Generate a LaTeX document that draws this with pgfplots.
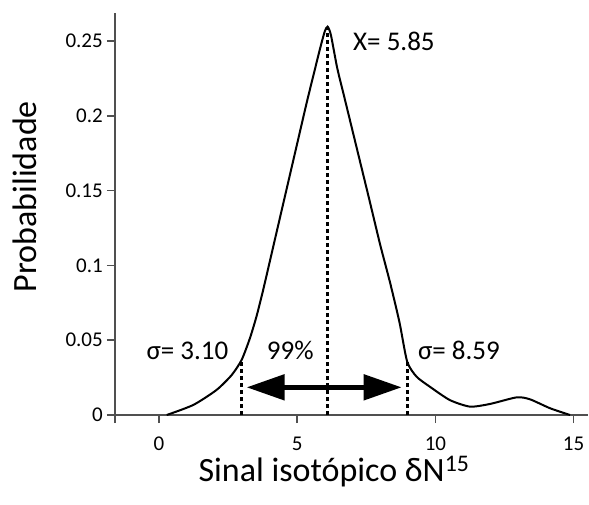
\documentclass[border=0pt]{standalone}
\usepackage{fontspec}
\setmainfont{Carlito}
\usepackage{pgfplots}
\pgfplotsset{compat=1.18}
\usetikzlibrary{arrows.meta}
\definecolor{axgray}{RGB}{80,80,80}
\begin{document}
\begin{tikzpicture}
\begin{axis}[
  scale only axis, width=473pt, height=410pt,
  xmin=-1.59, xmax=15.52, ymin=-0.00535, ymax=0.2687,
  axis x line=middle, axis y line=left,
  hide obscured x ticks=false, hide obscured y ticks=false,
  axis line style={-, draw=axgray, line width=1.8pt},
  xtick={0,5,10,15}, xticklabels={},
  ytick={0,0.05,0.1,0.15,0.2,0.25}, yticklabels={},
  tick align=outside, major tick length=8pt,
  tick style={draw=axgray, line width=1.5pt},
  clip=false,
]
\addplot[black, line width=2pt, smooth, tension=0.4] coordinates {
(0.28,0) (1.24,0.0067) (2.08,0.0167) (2.63,0.0267)
(2.99,0.0368) (3.29,0.0513) (3.53,0.066) (3.77,0.0836) (4.2,0.1178) (4.6,0.1496)
(5.0,0.1814) (5.34,0.2084) (5.6,0.228) (5.85,0.2465) (6.0,0.2565) (6.1,0.2596) (6.22,0.254)
(6.45,0.2318) (6.73,0.2106) (7.2,0.175) (7.6,0.1447) (8.0,0.114) (8.36,0.0885)
(8.7,0.062) (8.98,0.0356) (9.32,0.0256) (9.8,0.0189) (10.52,0.010) (11.25,0.0056)
(11.98,0.0074) (12.94,0.0118) (13.42,0.0105) (14.15,0.0045) (14.87,0)
};
\addplot[black, line width=3pt, dash pattern=on 4pt off 3pt] coordinates {(2.99,0) (2.99,0.0368)};
\addplot[black, line width=3pt, dash pattern=on 4pt off 3pt] coordinates {(6.1,0) (6.1,0.2596)};
\addplot[black, line width=3pt, dash pattern=on 4pt off 3pt] coordinates {(8.98,0) (8.98,0.0356)};
\addplot[black, line width=5pt, {Triangle[length=38pt,width=25pt]}-{Triangle[length=38pt,width=25pt]}] coordinates {(3.17,0.0185) (8.78,0.0185)};
% tick labels
\pgfplotsinvokeforeach{0,5,10,15}{
  \node[anchor=base, font=\fontsize{21}{24}\selectfont, inner sep=0pt, yshift=-35pt] at (axis cs:#1,0) {#1};
}
\pgfplotsinvokeforeach{0,0.05,0.1,0.15,0.2,0.25}{
  \node[anchor=east, font=\fontsize{21}{24}\selectfont, inner sep=0pt, xshift=-12pt] at (axis cs:-1.59,#1) {#1};
}
\node[anchor=base west, font=\fontsize{27}{30}\selectfont, inner sep=0pt] at (axis cs:7.02,0.2433) {X= 5.85};
\node[anchor=base, font=\fontsize{27}{30}\selectfont, inner sep=0pt] at (axis cs:1.03,0.037) {σ= 3.10};
\node[anchor=base, font=\fontsize{27}{30}\selectfont, inner sep=0pt] at (axis cs:4.75,0.037) {99\%};
\node[anchor=base, font=\fontsize{27}{30}\selectfont, inner sep=0pt] at (axis cs:10.85,0.037) {σ= 8.59};
\node[anchor=base, font=\fontsize{34}{38}\selectfont, inner sep=0pt] at (axis description cs:0.463,-0.1415) {Sinal isotópico δN\textsuperscript{15}};
\node[anchor=base, rotate=90, font=\fontsize{34}{38}\selectfont, inner sep=0pt] at (axis description cs:-0.165,0.552) {Probabilidade};
\coordinate (bbsw) at (axis description cs:-0.2431,-0.1976);
\coordinate (bbne) at (axis description cs:1.0021,1.0317);
\end{axis}
\pgfresetboundingbox
\path[use as bounding box] (bbsw) rectangle (bbne);
\end{tikzpicture}
\end{document}
